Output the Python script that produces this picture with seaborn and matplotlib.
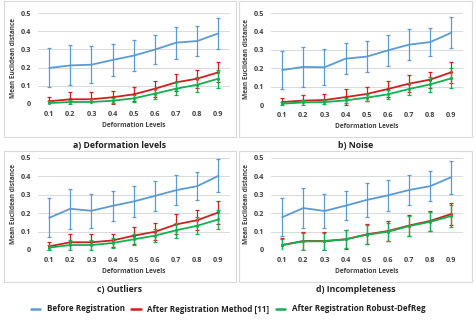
import matplotlib
matplotlib.use("Agg")
import matplotlib.pyplot as plt
from matplotlib.patches import Rectangle
from matplotlib.lines import Line2D
import seaborn as sns
import pandas as pd

levels = [0.1, 0.2, 0.3, 0.4, 0.5, 0.6, 0.7, 0.8, 0.9]
level_labels = ["0.1", "0.2", "0.3", "0.4", "0.5", "0.6", "0.7", "0.8", "0.9"]
y_ticks = [0, 0.1, 0.2, 0.3, 0.4, 0.5]
y_tick_labels = ["0", "0.1", "0.2", "0.3", "0.4", "0.5"]
series_names = ["Before Registration", "After Registration Method [11]", "After Registration Robust-DefReg"]
panel_titles = ["a) Deformation levels", "b) Noise", "c) Outliers", "d) Incompleteness"]

a_before = [0.198, 0.212, 0.216, 0.242, 0.266, 0.299, 0.337, 0.346, 0.388]
a_before_err = [0.107, 0.110, 0.100, 0.088, 0.085, 0.080, 0.088, 0.080, 0.087]
a_m11 = [0.015, 0.026, 0.026, 0.037, 0.053, 0.084, 0.119, 0.139, 0.174]
a_m11_err = [0.023, 0.038, 0.038, 0.036, 0.039, 0.044, 0.046, 0.050, 0.055]
a_rob = [0.005, 0.011, 0.011, 0.018, 0.031, 0.057, 0.084, 0.106, 0.139]
a_rob_err = [0.010, 0.012, 0.015, 0.015, 0.020, 0.028, 0.035, 0.040, 0.050]

b_before = [0.190, 0.207, 0.205, 0.252, 0.263, 0.297, 0.328, 0.342, 0.393]
b_before_err = [0.105, 0.108, 0.098, 0.085, 0.083, 0.083, 0.085, 0.075, 0.083]
b_m11 = [0.016, 0.024, 0.027, 0.043, 0.060, 0.087, 0.116, 0.138, 0.178]
b_m11_err = [0.022, 0.030, 0.033, 0.044, 0.038, 0.045, 0.047, 0.043, 0.058]
b_rob = [0.007, 0.014, 0.016, 0.025, 0.040, 0.058, 0.087, 0.112, 0.145]
b_rob_err = [0.008, 0.012, 0.012, 0.015, 0.020, 0.025, 0.035, 0.040, 0.055]

c_before = [0.175, 0.224, 0.213, 0.240, 0.264, 0.294, 0.325, 0.347, 0.403]
c_before_err = [0.105, 0.108, 0.092, 0.083, 0.086, 0.081, 0.083, 0.075, 0.090]
c_m11 = [0.020, 0.042, 0.042, 0.052, 0.078, 0.099, 0.139, 0.162, 0.204]
c_m11_err = [0.022, 0.045, 0.045, 0.036, 0.045, 0.047, 0.054, 0.053, 0.063]
c_rob = [0.013, 0.027, 0.027, 0.038, 0.058, 0.078, 0.107, 0.132, 0.166]
c_rob_err = [0.012, 0.025, 0.025, 0.025, 0.030, 0.035, 0.040, 0.045, 0.050]

d_before = [0.178, 0.228, 0.212, 0.241, 0.272, 0.297, 0.326, 0.347, 0.396]
d_before_err = [0.102, 0.107, 0.094, 0.079, 0.091, 0.086, 0.080, 0.083, 0.090]
d_m11 = [0.027, 0.049, 0.049, 0.058, 0.085, 0.103, 0.133, 0.158, 0.196]
d_m11_err = [0.038, 0.050, 0.049, 0.050, 0.055, 0.053, 0.057, 0.055, 0.060]
d_rob = [0.027, 0.047, 0.047, 0.058, 0.083, 0.099, 0.130, 0.153, 0.185]
d_rob_err = [0.035, 0.048, 0.047, 0.048, 0.052, 0.050, 0.055, 0.052, 0.058]

panels = [
    [(a_before, a_before_err), (a_m11, a_m11_err), (a_rob, a_rob_err)],
    [(b_before, b_before_err), (b_m11, b_m11_err), (b_rob, b_rob_err)],
    [(c_before, c_before_err), (c_m11, c_m11_err), (c_rob, c_rob_err)],
    [(d_before, d_before_err), (d_m11, d_m11_err), (d_rob, d_rob_err)],
]

colors = ["#5B9BD5", "#D01F1F", "#13B04F"]
markers = [None, "o", "o"]

sns.set_theme(style="white")
plt.rcParams["font.family"] = ["Open Sans", "DejaVu Sans"]
plt.rcParams["font.weight"] = "bold"

W, H = 477, 324
fig = plt.figure(figsize=(W / 100, H / 100), dpi=100)
fig.patch.set_facecolor("white")

def frac_rect(x0, y0, x1, y1):
    return [x0 / W, 1 - y1 / H, (x1 - x0) / W, (y1 - y0) / H]

# panel boxes (pixel coordinates)
boxes = [(4, 1, 236, 137), (239, 1, 472, 137), (4, 151, 236, 282), (239, 151, 472, 282)]
# plot areas (pixel coordinates)
plots = [(38, 13, 230, 104), (271, 13, 463, 105), (38, 158, 230, 250), (271, 158, 463, 250)]
title_y = [146, 146, 290, 290]

for i in range(4):
    bx0, by0, bx1, by1 = boxes[i]
    fig.add_artist(Rectangle((bx0 / W, 1 - by1 / H), (bx1 - bx0) / W, (by1 - by0) / H,
                             transform=fig.transFigure, fill=False, ec="#D9D9D9", lw=0.8))
    ax = fig.add_axes(frac_rect(*plots[i]))
    ax.set_facecolor("white")
    for j, (vals, errs) in enumerate(panels[i]):
        df = pd.DataFrame({"level": levels, "value": vals})
        ax.errorbar(levels, vals, yerr=errs, fmt="none", ecolor=colors[j],
                    elinewidth=0.9, capsize=1.2, capthick=0.9, zorder=2 + j)
        sns.lineplot(data=df, x="level", y="value", ax=ax, color=colors[j],
                     linewidth=1.3, marker=markers[j], markersize=2.2,
                     markeredgewidth=0, zorder=3 + j)
    ax.set_xlim(0.047, 0.955)
    ax.set_ylim(0, 0.5)
    ax.set_xticks(levels)
    ax.set_xticklabels(level_labels)
    ax.set_yticks(y_ticks)
    ax.set_yticklabels(y_tick_labels)
    ax.grid(axis="y", color="#D9D9D9", lw=0.7)
    ax.grid(axis="x", visible=False)
    for s in ax.spines.values():
        s.set_visible(False)
    ax.tick_params(axis="both", length=0, labelsize=5.2, colors="#404040")
    ax.tick_params(axis="x", pad=5)
    ax.tick_params(axis="y", pad=5)
    for lab in ax.get_xticklabels() + ax.get_yticklabels():
        lab.set_fontweight("bold")
    ax.set_xlabel("Deformation Levels", fontsize=4.7, fontweight="bold", color="#404040", labelpad=3)
    ax.set_ylabel("Mean Euclidean distance", fontsize=4.7, fontweight="bold", color="#404040", labelpad=3)
    cx = (bx0 + bx1) / 2 / W
    fig.text(cx, 1 - title_y[i] / H, panel_titles[i], ha="center", va="center",
             fontsize=6.3, fontweight="bold", color="#222222")

handles = [Line2D([0], [0], color=c, lw=1.8) for c in colors]
leg = fig.legend(handles, series_names, loc="center", bbox_to_anchor=(0.478, 1 - 309 / H),
                 ncol=3, frameon=False, fontsize=5.8, handlelength=1.2,
                 handletextpad=0.8, columnspacing=0.8)
for t in leg.get_texts():
    t.set_fontweight("bold")
    t.set_color("#222222")

fig.savefig("out.png", dpi=100, facecolor="white")
